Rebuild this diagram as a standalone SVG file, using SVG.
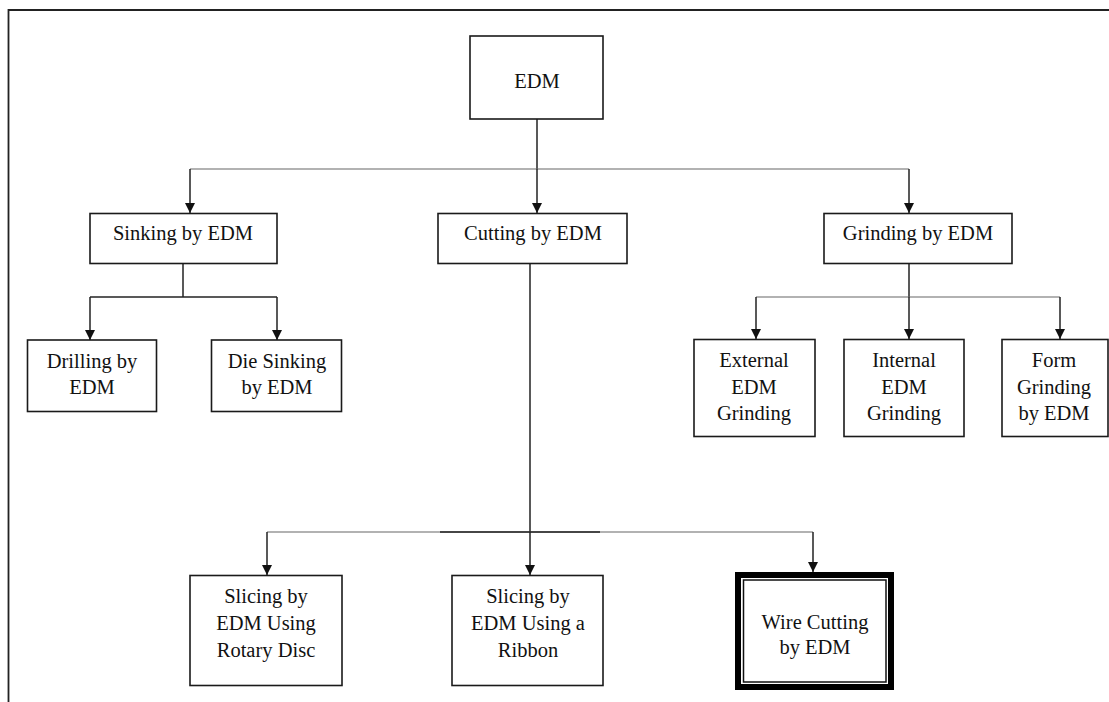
<svg xmlns="http://www.w3.org/2000/svg" width="1109" height="702" viewBox="0 0 1109 702">
<style>
.box{fill:#fff;stroke:#1a1a1a;stroke-width:1.6}
.t{font-family:"Liberation Serif","Times New Roman",serif;font-size:20.5px;fill:#111;text-anchor:middle}
.c{fill:none;stroke:#222;stroke-width:1.5}
.h{fill:none;stroke:#666;stroke-width:1.2}
</style>
<defs>
<marker id="ah" viewBox="0 0 10 10" refX="10" refY="5" markerWidth="10" markerHeight="10" markerUnits="userSpaceOnUse" orient="auto">
<path d="M0,0 L10,5 L0,10 Z" fill="#111"/>
</marker>
</defs>
<rect width="1109" height="702" fill="#fff"/>
<path d="M8.5,702 V10 H1109" fill="none" stroke="#222" stroke-width="1.8"/>

<g id="connectors">
<path class="c" d="M537,119 V169"/>
<path class="h" d="M190,169 H909"/>
<path class="c" d="M190,169 V213" marker-end="url(#ah)"/>
<path class="c" d="M537,169 V213" marker-end="url(#ah)"/>
<path class="c" d="M909,169 V213" marker-end="url(#ah)"/>

<path class="c" d="M183,263 V297"/>
<path class="c" d="M90,297 H277"/>
<path class="c" d="M90,297 V340" marker-end="url(#ah)"/>
<path class="c" d="M277,297 V340" marker-end="url(#ah)"/>

<path class="c" d="M909,263 V297"/>
<path class="h" d="M756,297 H1060"/>
<path class="c" d="M756,297 V339" marker-end="url(#ah)"/>
<path class="c" d="M909,297 V339" marker-end="url(#ah)"/>
<path class="c" d="M1060,297 V339" marker-end="url(#ah)"/>

<path class="c" d="M530,263 V532"/>
<path class="h" d="M267,532 H813"/>
<path class="c" d="M440,532 H600"/>
<path class="c" d="M267,532 V575" marker-end="url(#ah)"/>
<path class="c" d="M530,532 V575" marker-end="url(#ah)"/>
<path class="c" d="M813,532 V572" marker-end="url(#ah)"/>
</g>

<g id="edm">
<rect class="box" x="470" y="36" width="133" height="83"/>
<text class="t" x="537" y="88">EDM</text>
</g>
<g id="sinking">
<rect class="box" x="90" y="213.5" width="187" height="50"/>
<text class="t" x="183" y="240">Sinking by EDM</text>
</g>
<g id="cutting">
<rect class="box" x="438" y="213.5" width="189" height="50"/>
<text class="t" x="533" y="240">Cutting by EDM</text>
</g>
<g id="grinding">
<rect class="box" x="824" y="213.5" width="188" height="50"/>
<text class="t" x="918" y="240">Grinding by EDM</text>
</g>
<g id="drilling">
<rect class="box" x="27.5" y="340" width="129" height="71.5"/>
<text class="t" x="92" y="368">Drilling by</text>
<text class="t" x="92" y="394">EDM</text>
</g>
<g id="diesinking">
<rect class="box" x="211.5" y="340" width="130" height="71.5"/>
<text class="t" x="277" y="368">Die Sinking</text>
<text class="t" x="277" y="394">by EDM</text>
</g>
<g id="external">
<rect class="box" x="694" y="339.5" width="121" height="97"/>
<text class="t" x="754" y="367">External</text>
<text class="t" x="754" y="393.5">EDM</text>
<text class="t" x="754" y="420">Grinding</text>
</g>
<g id="internal">
<rect class="box" x="844" y="339.5" width="120" height="97"/>
<text class="t" x="904" y="367">Internal</text>
<text class="t" x="904" y="393.5">EDM</text>
<text class="t" x="904" y="420">Grinding</text>
</g>
<g id="form">
<rect class="box" x="1002" y="339.5" width="106" height="97"/>
<text class="t" x="1054" y="367">Form</text>
<text class="t" x="1054" y="393.5">Grinding</text>
<text class="t" x="1054" y="420">by EDM</text>
</g>
<g id="slicing-disc">
<rect class="box" x="190" y="575.5" width="152" height="110"/>
<text class="t" x="266" y="603">Slicing by</text>
<text class="t" x="266" y="630">EDM Using</text>
<text class="t" x="266" y="657">Rotary Disc</text>
</g>
<g id="slicing-ribbon">
<rect class="box" x="452" y="575.5" width="151" height="110"/>
<text class="t" x="528" y="603">Slicing by</text>
<text class="t" x="528" y="630">EDM Using a</text>
<text class="t" x="528" y="657">Ribbon</text>
</g>
<g id="wire">
<rect x="738" y="575" width="153" height="112" fill="#fff" stroke="#000" stroke-width="6"/>
<rect x="743.5" y="580" width="142.5" height="102" fill="none" stroke="#111" stroke-width="1.5"/>
<text class="t" x="815" y="629">Wire Cutting</text>
<text class="t" x="815" y="654">by EDM</text>
</g>
</svg>
